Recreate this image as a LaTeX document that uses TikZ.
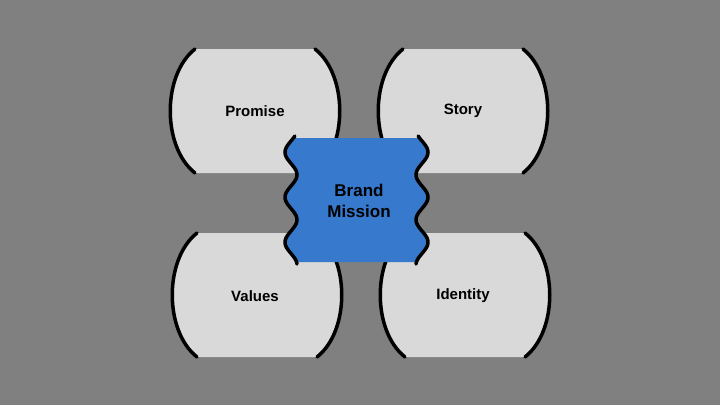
\documentclass[tikz,border=0pt]{standalone}
\usepackage{fontspec}
\setmainfont{Liberation Sans}
\usetikzlibrary{calc}
\definecolor{bg}{HTML}{808080}
\definecolor{pale}{HTML}{D9D9D9}
\definecolor{blu}{HTML}{3679CD}
\begin{document}
\begin{tikzpicture}[x=1pt,y=-1pt,
  lbl/.style={font=\bfseries\fontsize{15}{18}\selectfont,text=black},
  edge/.style={line width=3.5pt,line cap=round}]
\useasboundingbox (0,0) rectangle (720,405);
\fill[bg] (0,0) rectangle (720,405);
\foreach \n/\x/\y in {p/195/49,s/403/49,v/197/233,i/405/233}{
  \fill[pale] (\x,\y) .. controls ($(\x,\y)+(-33,26)$) and ($(\x,\y)+(-33,98)$) .. ($(\x,\y)+(0,124)$)
     -- ($(\x,\y)+(120,124)$) .. controls ($(\x,\y)+(153,98)$) and ($(\x,\y)+(153,26)$) .. ($(\x,\y)+(120,0)$) -- cycle;
  \draw[edge] (\x,\y) .. controls ($(\x,\y)+(-33,26)$) and ($(\x,\y)+(-33,98)$) .. ($(\x,\y)+(0,124)$);
  \draw[edge] ($(\x,\y)+(120,0)$) .. controls ($(\x,\y)+(153,26)$) and ($(\x,\y)+(153,98)$) .. ($(\x,\y)+(120,124)$);
}
\fill[blu] plot[domain=138:262,samples=80,variable=\t] ({291-6*sin(8*(\t-141))},\t)
  -- plot[domain=262:138,samples=80,variable=\t] ({422+6*sin(8*(\t-141))},\t) -- cycle;
\draw[edge] plot[domain=136:264,samples=80,variable=\t,smooth] ({291-6*sin(8*(\t-141))},\t);
\draw[edge] plot[domain=136:264,samples=80,variable=\t,smooth] ({422+6*sin(8*(\t-141))},\t);
\node[lbl] (promise) at (255,111) {Promise};
\node[lbl] (story) at (463,111) {Story};
\node[lbl] (values) at (255,296) {Values};
\node[lbl] (identity) at (463,296) {Identity};
\node[lbl,font=\bfseries\fontsize{17}{21}\selectfont,align=center] (mission) at (359,201) {Brand\\Mission};
\end{tikzpicture}
\end{document}
